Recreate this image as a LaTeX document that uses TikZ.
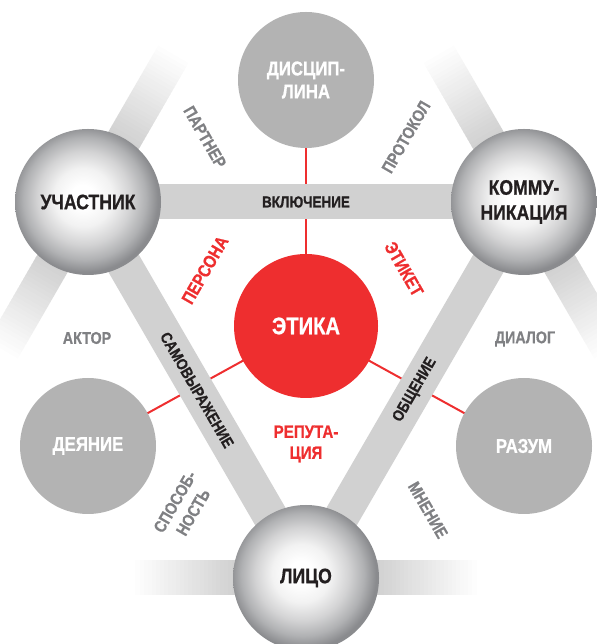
\documentclass[tikz,border=0pt]{standalone}
\usepackage{fontspec}
\setmainfont{Liberation Sans}[FakeStretch=0.84, BoldFeatures={FakeBold=0.7}]
\definecolor{barcol}{HTML}{D1D1D1}
\definecolor{graycirc}{HTML}{B3B3B3}
\definecolor{ethred}{HTML}{EE2E2F}
\definecolor{labgray}{HTML}{7F8083}
\definecolor{darktext}{HTML}{231F20}
\definecolor{sphA}{HTML}{F2F2F2}
\definecolor{sphB}{HTML}{D3D3D4}
\definecolor{sphC}{HTML}{B0B1B3}
\definecolor{sphD}{HTML}{8A8B8E}
\pgfdeclareradialshading{sphereball}{\pgfpoint{-2bp}{2bp}}{color(0bp)=(white); color(4bp)=(white); color(10bp)=(sphA); color(16bp)=(sphB); color(21bp)=(sphC); color(25bp)=(sphD); color(50bp)=(sphD)}
\tikzset{
  bigball/.style={circle, minimum size=146pt, inner sep=0pt, shade, shading=sphereball, align=center, text=darktext, font=\fontsize{21}{25}\selectfont\bfseries},
  grayball/.style={circle, fill=graycirc, minimum size=136pt, inner sep=0pt, align=center, text=white, font=\fontsize{20}{23}\selectfont\bfseries},
  redball/.style={circle, fill=ethred, minimum size=144pt, inner sep=0pt, text=white, font=\fontsize{24}{28}\selectfont\bfseries},
  edgebar/.style={line width=35pt, barcol},
  redline/.style={line width=2pt, ethred},
  barlabel/.style={inner sep=0pt, text=darktext, font=\fontsize{16}{19}\selectfont\bfseries},
  graylabel/.style={inner sep=0pt, align=center, text=labgray, font=\fontsize{17}{21}\selectfont\bfseries},
  redlabel/.style={inner sep=0pt, align=center, text=ethred, font=\fontsize{18}{21}\selectfont\bfseries}
}
\begin{document}
\begin{tikzpicture}[x=1pt,y=1pt]
\useasboundingbox (0,0) rectangle (596,644);
\coordinate (pU) at (88,442);
\coordinate (pK) at (524,442);
\coordinate (pL) at (306,66);
\coordinate (pD) at (306,564);
\coordinate (pDe) at (88,198);
\coordinate (pR) at (524,198);
\coordinate (pE) at (306,318);
% red connectors
\draw[redline] (pE) -- (pD);
\draw[redline] (pE) -- (pDe);
\draw[redline] (pE) -- (pR);
% fading bars
\foreach \c/\a in {pU/60, pU/240, pK/120, pK/300, pL/0, pL/180}{
  \begin{scope}[shift={(\c)}, rotate=\a]
    \foreach \i in {0,...,24}{
      \pgfmathtruncatemacro\pct{100-4*\i}
      \fill[barcol!\pct!white] ({70+4*\i},-17.5) rectangle ({74.6+4*\i},17.5);
    }
  \end{scope}
}
% triangle bars
\draw[edgebar] (pU) -- (pK);
\draw[edgebar] (pU) -- (pL);
\draw[edgebar] (pL) -- (pK);
% bar labels
\path (pU) -- (pK) node[midway, barlabel] {ВКЛЮЧЕНИЕ};
\path (pU) -- (pL) node[midway, sloped, barlabel] {САМОВЫРАЖЕНИЕ};
\path (pL) -- (pK) node[midway, sloped, barlabel] {ОБЩЕНИЕ};
% circles
\node[bigball] (U) at (pU) {УЧАСТНИК};
\node[bigball] (K) at (pK) {КОММУ-\\НИКАЦИЯ};
\node[bigball] (L) at (pL) {ЛИЦО};
\node[grayball] (D) at (pD) {ДИСЦИП-\\ЛИНА};
\node[grayball] (De) at (pDe) {ДЕЯНИЕ};
\node[grayball] (R) at (pR) {РАЗУМ};
\node[redball] (E) at (pE) {ЭТИКА};
% labels
\node[graylabel, rotate=-60] (partner) at (205,507) {ПАРТНЕР};
\node[graylabel, rotate=60] (protokol) at (406,507) {ПРОТОКОЛ};
\node[redlabel, rotate=60] (persona) at (205,374) {ПЕРСОНА};
\node[redlabel, rotate=-60] (etiket) at (404,375) {ЭТИКЕТ};
\node[graylabel] (aktor) at (87,306) {АКТОР};
\node[graylabel] (dialog) at (525,305) {ДИАЛОГ};
\node[graylabel, rotate=60] (sposob) at (184,137) {СПОСОБ-\\НОСТЬ};
\node[graylabel, rotate=-60] (mnenie) at (428,134) {МНЕНИЕ};
\node[redlabel] (reputa) at (306,200) {РЕПУТА-\\ЦИЯ};
\end{tikzpicture}
\end{document}
